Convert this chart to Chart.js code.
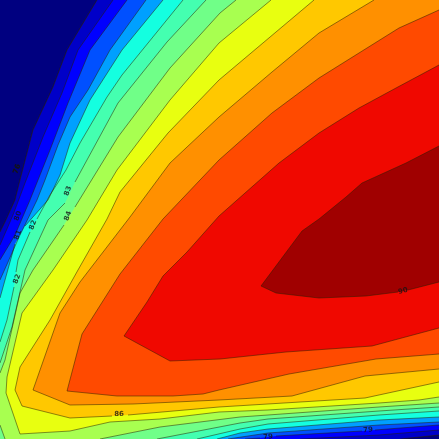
<!DOCTYPE html>
<html>
<head>
<meta charset="utf-8">
<script src="https://cdn.jsdelivr.net/npm/chart.js@4"></script>
<style>
  html, body { margin: 0; padding: 0; background: #000080; }
  canvas { display: block; }
</style>
</head>
<body>
<canvas id="chart" width="439" height="439"></canvas>
<script>
// band colours, lowest to highest (first one is the page background)
const bandColors = ['#000080', '#0000c8', '#0000ff', '#0050ff', '#00a0ff', '#14ffe0', '#44ffb0',
  '#70ff88', '#a8ff50', '#e8ff10', '#ffc800', '#ff9000', '#ff4a00', '#f00800', '#a00000'];

// contour lines, null = break in the drawn line
const c0 = [[97,0],[67,50],[53,87],[33,130],[20,180],[15,200],[5,222],[0,232],null,[0,439],null,[400,439],[439,435],null,[439,0]];
const c1 = [[113,0],[78,50],[62,93],[43,137],[25,183],[13,215],[0,245],null,[0,439],null,[300,439],[379,435],[439,430],null,[439,0]];
const c2 = [[127,0],[90,50],[68,103],[50,150],[30,200],[15,235],[0,260],null,[0,439],null,[245,439],[260,438],null,[276,436],[362,431],null,[375,430],[439,425],null,[439,0]];
const c3 = [[146,0],[110,50],[88,90],[70,117],[58,145],[45,180],[37,200],[20,235],[0,280],null,[0,439],null,[228,439],[268,433],[379,425],[439,422],null,[439,0]];
const c4 = [[163,0],[122,50],[90,100],[70,143],[60,175],[48,200],[25,226],null,[15,244],[0,298],null,[0,439],null,[217,439],[240,433],[268,429],[379,420],[439,417],null,[439,0]];
const c5 = [[183,0],[122,75],[107,97],[80,143],[66,170],[50,195],[37,219],null,[30,232],[18,260],[16,272],null,[14,287],[7,320],[0,342],null,[0,439],null,[197,439],[240,429],[268,424],[379,415],[439,411],null,[439,0]];
const c6 = [[206,0],[167,42],[118,103],[75,182],null,[65,203],[48,220],[25,270],[12,327],[0,363],null,[0,439],null,[157,439],[240,423],[268,419],[379,411],[439,407],null,[439,0]];
const c7 = [[236,0],[220,13],[170,68],[118,137],[75,207],null,[64,225],[33,270],[20,293],[5,360],[0,373],null,[0,425],[5,439],null,[100,439],[160,427],[240,417],[268,415],[379,407],[439,403],null,[439,0]];
const c8 = [[271,0],[219,43],[170,100],[117,170],[87,220],[53,270],[22,313],[7,377],[6,393],[20,434],[70,431],[110,422],[160,419],[219,412],[268,410],[379,403],[419,400],[439,397],null,[439,0]];
const c9 = [[314,0],[219,80],[168,133],[120,192],[107,219],[78,270],[50,320],[20,367],[15,390],[22,406],[70,418],[112,416],null,[128,415],[219,407],[365,398],[439,382],null,[439,0]];
const c10 = [[374,0],[319,33],[272,72],[219,117],[170,163],[130,217],[80,282],[60,313],[33,390],[70,405],[133,404],[219,400],[292,396],[365,376],[439,369],null,[439,0]];
const c11 = [[439,10],[399,28],[319,78],[272,113],[219,160],[163,219],[120,274],[82,334],[67,391],[117,396],[173,396],[203,394],[219,390],[289,374],[376,359],[439,354]];
const c12 = [[439,65],[396,88],[359,108],[319,133],[279,163],[219,216],[187,252],[163,276],[147,302],[124,336],[170,361],[220,359],[286,352],[372,346],[439,328]];
const c13 = [[439,146],[406,163],[362,183],[346,197],[319,219],[302,231],[261,286],[276,293],[319,298],[366,296],[398,292],null,[408,290],[439,282]];
const contours = [c0, c1, c2, c3, c4, c5, c6, c7, c8, c9, c10, c11, c12, c13];

// inline contour labels
const labelText = ['83', '84', '80', '82', '81', '82', '86', '79', '79', '90', '76'];
const labelX = [68, 68, 18, 33, 18, 17, 119, 268, 368, 403, 17];
const labelY = [191, 216, 216, 225, 235, 279, 414, 437, 430, 291, 169];
const labelAngle = [-70, -70, -70, -70, -70, -70, 0, -5, -5, -15, -70];

const datasets = [];
contours.forEach((line, i) => {
  // filled region above this level
  datasets.push({
    data: line.filter(p => p).map(p => ({ x: p[0], y: p[1] })),
    showLine: true,
    fill: 'shape',
    backgroundColor: bandColors[i + 1],
    borderWidth: 0,
    borderColor: 'transparent',
    pointRadius: 0,
    order: 100 - i
  });
  // the line itself, drawn after all the fills
  datasets.push({
    data: line.map(p => p ? { x: p[0], y: p[1] } : { x: NaN, y: NaN }),
    showLine: true,
    fill: false,
    spanGaps: false,
    borderColor: 'rgba(40,30,0,0.5)',
    borderWidth: 1,
    pointRadius: 0,
    order: 50 - i
  });
});

const contourLabels = {
  id: 'contourLabels',
  afterDatasetsDraw(chart) {
    const { ctx, scales } = chart;
    ctx.save();
    ctx.font = 'bold 7px "DejaVu Sans"';
    ctx.fillStyle = 'rgba(20,20,20,0.8)';
    ctx.textAlign = 'center';
    ctx.textBaseline = 'middle';
    labelText.forEach((t, i) => {
      ctx.save();
      ctx.translate(scales.x.getPixelForValue(labelX[i]), scales.y.getPixelForValue(labelY[i]));
      ctx.rotate(labelAngle[i] * Math.PI / 180);
      ctx.fillText(t, 0, 0);
      ctx.restore();
    });
    ctx.restore();
  }
};

// the source picture is a soft jpeg, so lay a slightly blurred copy over the result
const softenPicture = {
  id: 'softenPicture',
  afterDraw(chart) {
    const { ctx, canvas } = chart;
    ctx.save();
    ctx.filter = 'blur(0.7px)';
    ctx.drawImage(canvas, 0, 0);
    ctx.restore();
  }
};

new Chart(document.getElementById('chart'), {
  type: 'scatter',
  data: { datasets: datasets },
  plugins: [contourLabels, softenPicture],
  options: {
    responsive: false,
    animation: false,
    layout: { padding: 0 },
    plugins: { legend: { display: false }, tooltip: { enabled: false } },
    scales: {
      x: { type: 'linear', display: false, min: 0, max: 439 },
      y: { type: 'linear', display: false, min: 0, max: 439, reverse: true }
    }
  }
});
</script>
</body>
</html>
